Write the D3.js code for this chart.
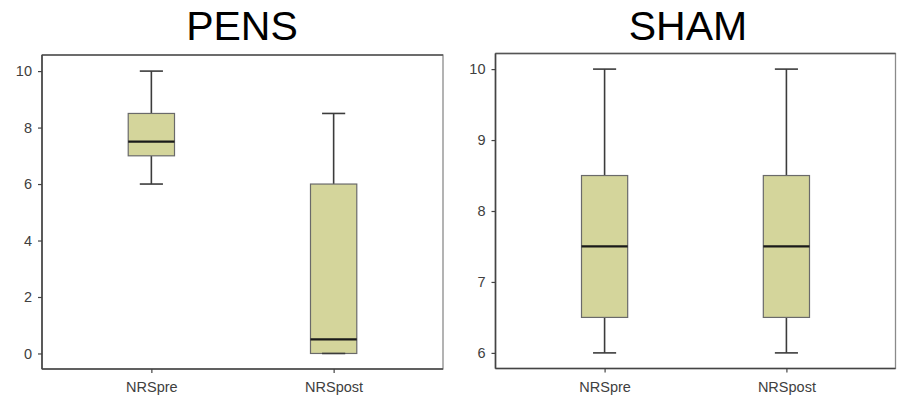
<!DOCTYPE html>
<html>
<head>
<meta charset="utf-8">
<script src="https://cdn.jsdelivr.net/npm/d3@7"></script>
<style>
  body { margin: 0; background: #fff; }
  svg text { font-family: "Liberation Sans", Arial, sans-serif; }
</style>
</head>
<body>
<div class="canvas"></div>
<script>
const width = 899;
const height = 396;

// data
const categories = ['NRSpre', 'NRSpost'];
const pensStats = [
  { min: 6, q1: 7, median: 7.5, q3: 8.5, max: 10 },
  { min: 0, q1: 0, median: 0.5, q3: 6, max: 8.5 }
];
const shamStats = [
  { min: 6, q1: 6.5, median: 7.5, q3: 8.5, max: 10 },
  { min: 6, q1: 6.5, median: 7.5, q3: 8.5, max: 10 }
];
const pensTicks = [0, 2, 4, 6, 8, 10];
const shamTicks = [6, 7, 8, 9, 10];
const pensDomain = [-0.55, 10.57];
const shamDomain = [5.78, 10.22];

const canvas = d3
  .select('.canvas')
  .append('svg')
  .attr('width', width)
  .attr('height', height);

function drawPanel(opts) {
  const { title, stats, ticks, domain, left, right, top, bottom, titleX } = opts;

  const xScale = d3.scalePoint().domain(categories).range([left, right]).padding(0.6);
  const yScale = d3.scaleLinear().domain(domain).range([bottom, top]);

  const g = canvas.append('g');

  // title
  g.append('text')
    .attr('x', titleX)
    .attr('y', 39.5)
    .attr('text-anchor', 'middle')
    .style('font-size', '41px')
    .style('fill', '#000')
    .text(title);

  // frame
  g.append('rect')
    .attr('x', left)
    .attr('y', top)
    .attr('width', right - left)
    .attr('height', bottom - top)
    .style('fill', 'none')
    .style('stroke', '#8a8a8a')
    .style('stroke-width', 1.3);
  g.append('line')
    .attr('x1', left).attr('x2', right)
    .attr('y1', top).attr('y2', top)
    .style('stroke', '#555')
    .style('stroke-width', 1.3);

  const yAxis = d3.axisLeft(yScale).tickValues(ticks).tickFormat(d3.format('d'))
    .tickSize(4).tickPadding(6);
  const xAxis = d3.axisBottom(xScale).tickSize(4).tickPadding(9);

  const yG = g.append('g').attr('transform', `translate(${left},0)`).call(yAxis);
  const xG = g.append('g').attr('transform', `translate(0,${bottom})`).call(xAxis);

  [yG, xG].forEach((ax) => {
    ax.select('.domain').style('stroke', '#444').style('stroke-width', 1.6);
    ax.selectAll('.tick line').style('stroke', '#444').style('stroke-width', 1.2);
    ax.selectAll('.tick text')
      .style('font-size', '14.5px')
      .style('fill', '#404040')
      .style('font-family', '"Liberation Sans", Arial, sans-serif');
  });
  yG.select('.domain').attr('d', `M0,${top}V${bottom}`);
  xG.select('.domain').attr('d', `M${left},0H${right}`);

  const boxWidth = xScale.step() * 0.254;
  const capWidth = boxWidth / 2;

  const box = g
    .selectAll('g.box')
    .data(stats)
    .enter()
    .append('g')
    .attr('class', 'box')
    .attr('transform', (d, i) => `translate(${xScale(categories[i])},0)`);

  box.each(function (d) {
    const b = d3.select(this);
    // whiskers
    b.append('line')
      .attr('y1', yScale(d.max)).attr('y2', yScale(d.q3))
      .style('stroke', '#3c3c3c').style('stroke-width', 1.6);
    b.append('line')
      .attr('y1', yScale(d.q1)).attr('y2', yScale(d.min))
      .style('stroke', '#3c3c3c').style('stroke-width', 1.6);
    b.append('rect')
      .attr('x', -boxWidth / 2)
      .attr('width', boxWidth)
      .attr('y', yScale(d.q3))
      .attr('height', yScale(d.q1) - yScale(d.q3))
      .style('fill', '#d4d59b')
      .style('stroke', '#6a6a6a')
      .style('stroke-width', 1.2);
    // caps
    [d.max, d.min].forEach((v) => {
      b.append('line')
        .attr('x1', -capWidth / 2).attr('x2', capWidth / 2)
        .attr('y1', yScale(v)).attr('y2', yScale(v))
        .style('stroke', '#3c3c3c').style('stroke-width', 1.6);
    });
    // median
    b.append('line')
      .attr('x1', -boxWidth / 2).attr('x2', boxWidth / 2)
      .attr('y1', yScale(d.median)).attr('y2', yScale(d.median))
      .style('stroke', '#1a1a1a').style('stroke-width', 2.2);
  });
}

drawPanel({
  title: 'PENS', stats: pensStats, ticks: pensTicks, domain: pensDomain,
  left: 42, right: 443, top: 55, bottom: 369, titleX: 242
});

drawPanel({
  title: 'SHAM', stats: shamStats, ticks: shamTicks, domain: shamDomain,
  left: 495.5, right: 895.5, top: 53.5, bottom: 368.5, titleX: 688
});
</script>
</body>
</html>
